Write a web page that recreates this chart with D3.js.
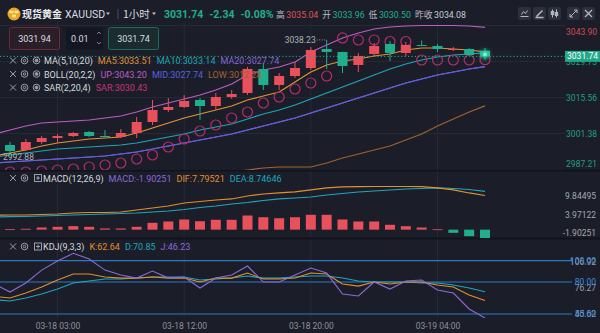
<!DOCTYPE html>
<html><head><meta charset="utf-8">
<script src="https://cdn.jsdelivr.net/npm/d3@7"></script>
<style>
html,body{margin:0;padding:0;background:#1b1e29;}
svg{display:block;font-family:Roboto,"Noto Sans","Noto Sans CJK SC",sans-serif;}
</style></head><body>
<svg id="c" width="600" height="333"></svg>
<script>
// ---- hourly bars (first entry sits just off the left edge) ----
const times = ["03-17 23:00","03-18 00:00","03-18 01:00","03-18 02:00","03-18 03:00","03-18 04:00","03-18 06:00","03-18 07:00","03-18 08:00","03-18 09:00","03-18 10:00","03-18 11:00","03-18 12:00","03-18 13:00","03-18 14:00","03-18 15:00","03-18 16:00","03-18 17:00","03-18 18:00","03-18 19:00","03-18 20:00","03-18 21:00","03-18 22:00","03-18 23:00","03-19 00:00","03-19 01:00","03-19 02:00","03-19 03:00","03-19 04:00","03-19 06:00","03-19 07:00","03-19 08:00"];
const open  = [2995.50,2996.86,2994.89,2998.04,2999.62,3000.40,3001.98,3000.40,3000.01,3001.58,3005.91,3010.64,3011.82,3014.58,3012.21,3015.76,3017.33,3026.78,3020.48,3024.02,3027.17,3034.65,3033.47,3028.36,3032.69,3036.62,3033.08,3036.23,3035.84,3034.26,3034.65,3033.96];
const high  = [2997.50,2998.04,2999.22,3000.40,3001.19,3001.98,3002.37,3002.76,3003.16,3007.88,3014.58,3015.36,3016.54,3015.36,3017.33,3018.51,3027.57,3029.14,3025.20,3029.54,3035.44,3038.23,3033.60,3033.08,3037.02,3037.80,3037.41,3038.00,3036.62,3035.40,3035.05,3035.04];
const low   = [2994.00,2992.88,2994.50,2997.25,2997.65,3000.01,3000.01,2999.90,2999.62,2999.62,3004.73,3009.85,3011.43,3006.70,3010.64,3014.97,3016.54,3018.51,3018.51,3023.24,3026.39,3026.78,3025.20,3025.60,3031.50,3029.93,3031.90,3035.84,3033.47,3033.87,3031.90,3030.50];
const close = [2996.90,2994.50,2998.04,2999.62,3000.40,3001.58,3000.40,3000.01,3001.58,3005.91,3010.64,3011.82,3014.18,3012.21,3015.76,3016.94,3026.78,3020.48,3024.02,3027.17,3034.26,3033.47,3027.96,3031.90,3035.84,3033.08,3036.23,3035.84,3034.65,3034.65,3032.29,3031.74];

const ma5   = [2992.53,2993.71,2994.89,2996.47,2997.65,2998.43,2999.22,2999.62,3000.01,3001.58,3003.55,3005.52,3007.49,3009.06,3010.64,3012.21,3014.58,3016.15,3017.73,3021.66,3025.60,3028.36,3029.93,3030.72,3031.90,3032.69,3034.26,3035.05,3035.05,3034.65,3034.26,3033.51];
const ma10  = [2992.13,2992.92,2993.71,2994.50,2995.28,2995.68,2996.07,2996.47,2996.86,2997.65,2998.83,3000.01,3001.19,3002.76,3003.95,3005.13,3007.10,3009.06,3010.64,3012.61,3014.97,3017.33,3019.69,3022.06,3024.42,3026.78,3028.75,3030.32,3031.50,3032.29,3032.69,3033.14];
const ma20  = [2989.77,2990.17,2990.56,2990.95,2991.35,2991.74,2992.13,2992.53,2993.32,2994.10,2995.28,2996.47,2997.65,2998.83,3000.01,3001.19,3002.76,3004.34,3005.91,3007.49,3009.46,3011.43,3013.39,3015.36,3017.33,3019.30,3021.27,3022.84,3024.42,3025.60,3026.78,3027.74];
const bollUp  = [3001.19,3002.76,3004.34,3005.52,3005.91,3006.31,3006.70,3007.49,3008.28,3009.85,3011.82,3013.39,3014.97,3016.54,3018.51,3020.87,3024.42,3026.39,3027.57,3029.54,3033.47,3036.23,3038.99,3040.95,3042.53,3043.32,3043.71,3043.90,3043.90,3043.90,3043.71,3043.20];
const bollMid = ma20;
const bollLow = [2978.3,2978.6,2978.9,2979.2,2979.5,2979.8,2980.2,2980.6,2981.0,2981.5,2982.0,2982.6,2983.2,2983.9,2984.8,2986.23,2987.02,2987.80,2988.20,2988.20,2988.20,2989.77,2991.74,2993.32,2994.89,2996.47,2998.83,3001.19,3004.34,3007.10,3009.85,3012.28];
const sar = [2986.00,2986.23,2986.23,2986.62,2987.02,2987.41,2988.20,2988.98,2989.77,2991.35,2992.92,2996.07,2999.22,3002.37,3004.73,3007.49,3009.85,3013.39,3015.76,3018.91,3021.27,3024.02,3038.99,3038.20,3038.20,3037.60,3037.60,3030.32,3030.32,3030.32,3030.32,3030.43];

const dif  = [3.30,3.34,3.34,3.46,3.57,3.80,3.91,3.91,4.03,4.48,4.94,5.39,6.08,6.42,6.76,7.00,7.68,8.14,8.37,8.60,9.06,9.52,9.75,9.80,9.84495,9.84,9.84,9.80,9.52,9.06,8.37,7.79521];
const dea  = [2.91,2.96,3.00,3.12,3.23,3.34,3.46,3.57,3.69,3.80,4.03,4.26,4.60,5.05,5.40,5.85,6.20,6.65,7.00,7.22,7.45,7.91,8.25,8.59,8.82,9.05,9.27,9.39,9.52,9.39,9.16,8.74646];
const macdHist = [0.08,0.10,0.20,0.50,0.65,0.80,0.65,0.27,0.27,0.65,1.56,1.86,2.32,1.93,2.25,2.25,3.23,2.84,2.61,2.84,3.39,3.39,2.32,1.86,1.86,1.11,0.79,0.49,0.08,-0.72,-1.49,-1.90251];

const kdjK = [66.4,65.0,69.7,75.3,81.9,87.5,87.5,84.7,83.7,83.7,84.7,83.7,83.7,80.0,83.7,83.7,88.4,82.8,82.8,83.7,88.4,87.5,78.1,76.2,80.0,78.1,80.0,80.0,77.2,75.3,67.8,62.64];
const kdjD = [63.5,62.2,65.0,68.7,73.4,79.1,80.9,82.8,82.8,83.7,84.7,84.7,84.7,81.9,82.8,83.7,85.6,83.7,83.7,84.7,85.6,85.6,83.7,80.9,80.0,80.0,80.0,79.1,79.1,77.2,74.4,70.85];
const kdjJ = [78.1,70.6,79.1,91.2,99.7,106.92,101.5,91.2,86.6,83.7,90.3,83.7,84.7,74.4,83.7,86.6,95.0,80.0,80.0,86.6,93.1,88.4,68.7,66.9,80.0,73.4,80.9,81.9,72.5,69.7,54.7,46.23];

const priceTicks = [3043.90,3029.73,3015.56,3001.38,2987.21];
const macdTicks  = ["9.84495","3.97122","-1.90251"];
const kdjLevels  = [100,80,50];
const kdjTicks   = ["106.92","76.27","45.62"];
const timeTicks  = ["03-18 03:00","03-18 12:00","03-18 20:00","03-19 04:00"];
const lastPrice = 3031.74, topHigh = 3038.23, bottomLow = 2992.88;

// ---- layout ----
const W = 600, H = 333, plotR = 565;
const C = {bg:"#1b1e29", grid:"#252a36", up:"#e8505b", down:"#1fae8e", text:"#d6d9df", dim:"#8b909a",
  ma5:"#e39233", ma10:"#1ea6b6", ma20:"#8a64d6", bUp:"#bd5cc4", bMid:"#5a5fe0", bLow:"#a3622e", sar:"#b32c6c",
  dif:"#e0902c", dea:"#1ea6be", macd:"#8a6ad8", kLine:"#2a78c2", kLbl:"#3d8ddc"};

const svg = d3.select("#c");
svg.append("rect").attr("width", W).attr("height", H).attr("fill", C.bg);

const x = d3.scalePoint().domain(times).range([10 - 15.83, 485]);
const yP = d3.scaleLinear().domain([2987.21, 3043.90]).range([169.5, 25.5]);
const yM = d3.scaleLinear().domain([-1.90251, 9.84495]).range([238, 186.5]);
const yK = d3.scaleLinear().domain([50, 100]).range([314, 260.7]);

const defs = svg.append("defs");
function clip(id, y0, y1) {
  defs.append("clipPath").attr("id", id).append("rect").attr("x", 0).attr("y", y0).attr("width", plotR).attr("height", y1 - y0);
  return svg.append("g").attr("clip-path", `url(#${id})`);
}
const blur = defs.append("filter").attr("id", "glow").attr("x", "-100%").attr("y", "-100%").attr("width", "300%").attr("height", "300%");
blur.append("feGaussianBlur").attr("stdDeviation", 2.2);

// vertical grid
svg.append("g").selectAll("line").data(timeTicks).join("line")
  .attr("x1", d => x(d)).attr("x2", d => x(d)).attr("y1", 22).attr("y2", 318)
  .attr("stroke", C.grid).attr("stroke-width", 1);
// horizontal grid (price)
svg.append("g").selectAll("line").data(priceTicks).join("line")
  .attr("x1", 0).attr("x2", plotR).attr("y1", d => yP(d)).attr("y2", d => yP(d))
  .attr("stroke", C.grid);
// panel separators
[170.5, 238.5].forEach(y => svg.append("line").attr("x1", 0).attr("x2", W).attr("y1", y).attr("y2", y).attr("stroke", "#10131b").attr("stroke-width", 2));

// ---------- main panel ----------
const gm = clip("cm", 22, 170);
const idx = d3.range(times.length);
function pline(g, arr, color, ys, w) {
  g.append("path").datum(idx).attr("fill", "none").attr("stroke", color).attr("stroke-width", w || 1.2)
    .attr("d", d3.line().x(i => x(times[i])).y(i => ys(arr[i])));
}
pline(gm, bollLow, C.bLow, yP);
pline(gm, ma20, C.ma20, yP);
pline(gm, bollMid, C.bMid, yP);
pline(gm, bollUp, C.bUp, yP);
pline(gm, ma10, C.ma10, yP);
pline(gm, ma5, C.ma5, yP);

// SAR dots
gm.append("g").selectAll("circle").data(idx).join("circle")
  .attr("cx", i => x(times[i])).attr("cy", i => yP(sar[i])).attr("r", 5)
  .attr("fill", "none").attr("stroke", C.sar).attr("stroke-width", 1.2);

// candles
const cg = gm.append("g").selectAll("g").data(idx).join("g");
const col = i => close[i] >= open[i] ? C.up : C.down;
cg.append("line").attr("x1", i => x(times[i])).attr("x2", i => x(times[i]))
  .attr("y1", i => yP(high[i])).attr("y2", i => yP(low[i])).attr("stroke", col).attr("stroke-width", 1);
cg.append("rect").attr("x", i => x(times[i]) - 5).attr("width", 10)
  .attr("y", i => yP(Math.max(open[i], close[i])))
  .attr("height", i => Math.max(1, Math.abs(yP(open[i]) - yP(close[i]))))
  .attr("fill", col);

// last price marker
const lastX = x(times[times.length - 1]);
svg.append("line").attr("x1", 0).attr("x2", plotR).attr("y1", yP(lastPrice)).attr("y2", yP(lastPrice))
  .attr("stroke", C.down).attr("stroke-dasharray", "1.2,2.2").attr("stroke-width", 1);
svg.append("circle").attr("cx", lastX).attr("cy", yP(lastPrice) - 2).attr("r", 4).attr("fill", "#2fe0b0").attr("filter", "url(#glow)");
svg.append("circle").attr("cx", lastX).attr("cy", yP(lastPrice) - 2).attr("r", 1.8).attr("fill", "#7ff5d4");

// high / low annotations
const hiIdx = high.indexOf(topHigh), loIdx = low.indexOf(bottomLow);
svg.append("line").attr("x1", x(times[hiIdx]) - 10).attr("x2", x(times[hiIdx]) - 1).attr("y1", yP(topHigh)).attr("y2", yP(topHigh))
  .attr("stroke", "#8b909a").attr("stroke-dasharray", "1,1.5");
svg.append("text").attr("x", x(times[hiIdx]) - 11).attr("y", yP(topHigh) + 3).attr("text-anchor", "end")
  .attr("font-size", 8.5).attr("fill", "#aeb2ba").text(topHigh.toFixed(2));
svg.append("text").attr("x", 3).attr("y", yP(bottomLow) + 4.5)
  .attr("font-size", 8.5).attr("fill", "#aeb2ba").text(bottomLow.toFixed(2));

// price axis
const pa = svg.append("g").attr("transform", "translate(597,0)")
  .call(d3.axisLeft(yP).tickValues(priceTicks).tickFormat(d3.format(".2f")).tickSize(0).tickPadding(0));
pa.select(".domain").remove();
pa.selectAll("text").attr("font-size", 8.5).attr("font-family", "Roboto")
  .attr("fill", d => d > lastPrice ? "#d24a52" : "#1f9e80")
  .attr("dy", (d, i) => i === 0 ? "1.0em" : (i === priceTicks.length - 1 ? "-0.4em" : "0.32em"));
// last price tag
svg.append("rect").attr("x", 565).attr("y", yP(lastPrice) - 5.5).attr("width", 35).attr("height", 11).attr("fill", "#1fa98a");
svg.append("text").attr("x", 582.5).attr("y", yP(lastPrice) + 3).attr("text-anchor", "middle")
  .attr("font-size", 8.5).attr("fill", "#ffffff").text(lastPrice.toFixed(2));

// ---------- MACD panel ----------
const gd = clip("cd", 171, 238);
gd.append("g").selectAll("rect").data(idx).join("rect")
  .attr("x", i => x(times[i]) - 5).attr("width", 10)
  .attr("y", i => Math.min(yM(0), yM(macdHist[i])))
  .attr("height", i => Math.max(0.8, Math.abs(yM(macdHist[i]) - yM(0))))
  .attr("fill", i => macdHist[i] >= 0 ? C.up : C.down);
pline(gd, dea, C.dea, yM);
pline(gd, dif, C.dif, yM);
const macdLbl = d3.scalePoint().domain(macdTicks).range([196, 233]);
const ma = svg.append("g").attr("transform", "translate(596,0)")
  .call(d3.axisLeft(macdLbl).tickSize(0).tickPadding(0));
ma.select(".domain").remove();
ma.selectAll("text").attr("font-size", 8.5).attr("font-family", "Roboto").attr("fill", "#a3a7b0");

// ---------- KDJ panel ----------
svg.append("g").selectAll("line").data(kdjLevels).join("line")
  .attr("x1", 0).attr("x2", 572).attr("y1", d => yK(d)).attr("y2", d => yK(d))
  .attr("stroke", C.kLine).attr("stroke-width", 1.2);
const gk = clip("ck", 239, 318);
pline(gk, kdjD, C.dea, yK, 1.1);
pline(gk, kdjK, C.dif, yK, 1.1);
pline(gk, kdjJ, C.macd, yK, 1.1);
const kLbl = d3.scalePoint().domain(kdjTicks).range([yK(100) + 1, yK(50)]);
const ka = svg.append("g").attr("transform", "translate(596,0)")
  .call(d3.axisLeft(kLbl).tickSize(0).tickPadding(0));
ka.select(".domain").remove();
ka.selectAll("text").attr("font-size", 8.5).attr("font-family", "Roboto").attr("fill", "#9aa0aa");
const kb = svg.append("g").attr("transform", "translate(596,0)")
  .call(d3.axisLeft(yK).tickValues(kdjLevels).tickFormat(d3.format(".2f")).tickSize(0).tickPadding(0));
kb.select(".domain").remove();
kb.selectAll("text").attr("font-size", 8.5).attr("font-family", "Roboto").attr("fill", C.kLbl);

// time axis
const ta = svg.append("g").attr("transform", "translate(0,320)")
  .call(d3.axisBottom(x).tickValues(timeTicks).tickSize(0).tickPadding(3));
ta.select(".domain").remove();
ta.selectAll("text").attr("font-size", 8.5).attr("font-family", "Roboto").attr("fill", "#8b909a");

// ---------- legends ----------
function icons(y, third) {
  const g = svg.append("g").attr("stroke", "#9ba0aa").attr("fill", "none").attr("stroke-width", 1);
  g.append("path").attr("d", `M10,${y-3.5} L16,${y+2.5} M16,${y-3.5} L10,${y+2.5}`);
  g.append("circle").attr("cx", 24.5).attr("cy", y - 0.5).attr("r", 3.3);
  g.append("circle").attr("cx", 24.5).attr("cy", y - 0.5).attr("r", 1.2);
  if (third === "eye") {
    g.append("circle").attr("cx", 36.5).attr("cy", y - 0.5).attr("r", 3.3);
    g.append("circle").attr("cx", 36.5).attr("cy", y - 0.5).attr("r", 1.4).attr("fill", "#9ba0aa");
  } else {
    g.append("rect").attr("x", 34.5).attr("y", y - 4).attr("width", 7).attr("height", 7);
    g.append("path").attr("d", `M36,${y-0.5} L40,${y-0.5} M38,${y-2.5} L38,${y+1.5}`);
  }
}
function legend(y, x0, items) {
  const t = svg.append("text").attr("x", x0).attr("y", y + 3).attr("font-size", 9);
  items.forEach(([s, c], k) => t.append("tspan").attr("dx", k ? 5 : 0).attr("fill", c).text(s));
}
icons(61, "eye"); legend(61, 44, [["MA(5,10,20)", C.text], ["MA5:3033.51", C.ma5], ["MA10:3033.14", C.ma10], ["MA20:3027.74", C.ma20]]);
icons(74.5, "eye"); legend(74.5, 44, [["BOLL(20,2,2)", C.text], ["UP:3043.20", C.bUp], ["MID:3027.74", C.bMid], ["LOW:3012.28", C.bLow]]);
icons(88, "eye"); legend(88, 44, [["SAR(2,20,4)", C.text], ["SAR:3030.43", "#c8327a"]]);
icons(178.5, "box"); legend(178.5, 43, [["MACD(12,26,9)", C.text], ["MACD:-1.90251", C.macd], ["DIF:7.79521", C.dif], ["DEA:8.74646", C.dea]]);
icons(247, "box"); legend(247, 43, [["KDJ(9,3,3)", C.text], ["K:62.64", C.dif], ["D:70.85", C.dea], ["J:46.23", C.macd]]);

// ---------- header ----------
const hd = svg.append("g");
hd.append("circle").attr("cx", 14).attr("cy", 14).attr("r", 6.5).attr("fill", "#eaa623");
[[11.5,12],[16.5,12],[14,16]].forEach(([a,b]) => hd.append("rect").attr("x", a - 2).attr("y", b - 1.3).attr("width", 4).attr("height", 2.6).attr("fill", "#fbe39a"));
hd.append("text").attr("x", 22).attr("y", 18).attr("font-size", 10).attr("font-weight", 700).attr("fill", "#e9ebef").attr("font-family", "Noto Sans CJK SC").text("现货黄金");
hd.append("text").attr("x", 65).attr("y", 18).attr("font-size", 10.5).attr("fill", "#d8dbe1").text("XAUUSD");
hd.append("path").attr("d", "M106,12.5 L110,12.5 L108,15 Z").attr("fill", "#c0c4cc");
hd.append("line").attr("x1", 118).attr("x2", 118).attr("y1", 9).attr("y2", 19).attr("stroke", "#4a4f5c");
hd.append("text").attr("x", 123).attr("y", 18).attr("font-size", 10.5).attr("fill", "#d8dbe1").attr("font-family", "Noto Sans CJK SC").text("1小时");
hd.append("path").attr("d", "M152,12.5 L156,12.5 L154,15 Z").attr("fill", "#c0c4cc");
const q = hd.append("text").attr("x", 164).attr("y", 18).attr("font-size", 10.5).attr("font-weight", 700);
[["3031.74", C.down, 0], ["-2.34", C.down, 6], ["-0.08%", C.down, 6]].forEach(([s, c, d]) => q.append("tspan").attr("dx", d).attr("fill", c).text(s));
const q2 = hd.append("text").attr("x", 276).attr("y", 18).attr("font-size", 8.8);
[["高", "#b8bcc4", 0], ["3035.04", "#e0505a", 1.5], ["开", "#b8bcc4", 4], ["3033.96", C.down, 1.5], ["低", "#b8bcc4", 4], ["3030.50", C.down, 1.5], ["昨收", "#b8bcc4", 4], ["3034.08", "#c8ccd4", 1.5]]
  .forEach(([s, c, d]) => q2.append("tspan").attr("dx", d).attr("fill", c).text(s));
// toolbar buttons
[518, 533, 548, 567, 582].forEach((bx, k) => {
  hd.append("rect").attr("x", bx).attr("y", 7).attr("width", 13).attr("height", 13).attr("rx", 2).attr("fill", "#2b303c");
  const g = hd.append("g").attr("stroke", "#b4b8c0").attr("fill", "none").attr("stroke-width", 1);
  const cx = bx + 6.5, cy = 13.5;
  if (k === 0) g.append("path").attr("d", `M${cx-4},${cy+3} L${cx+4},${cy+3} M${cx-3},${cy+1} L${cx-1},${cy-2} L${cx+1},${cy} L${cx+3},${cy-3}`);
  if (k === 1) g.append("path").attr("d", `M${cx-3},${cy+3} L${cx+3},${cy-3} M${cx-4},${cy+4} L${cx+4},${cy+4}`).attr("stroke-width", 1.5);
  if (k === 2) {
    g.append("path").attr("d", `M${cx-2},${cy-4} L${cx-2},${cy+4} M${cx+2},${cy-4} L${cx+2},${cy+4}`);
    g.append("rect").attr("x", cx - 3.2).attr("y", cy - 2).attr("width", 2.4).attr("height", 3).attr("fill", "#b4b8c0");
    g.append("rect").attr("x", cx + 0.8).attr("y", cy - 1).attr("width", 2.4).attr("height", 3).attr("fill", "#b4b8c0");
  }
  if (k === 3) g.append("path").attr("d", `M${cx-3.5},${cy+3.5} L${cx+3.5},${cy-3.5} M${cx+0.5},${cy-3.5} L${cx+3.5},${cy-3.5} L${cx+3.5},${cy-0.5} M${cx-3.5},${cy+0.5} L${cx-3.5},${cy+3.5} L${cx-0.5},${cy+3.5}`);
  if (k === 4) g.append("path").attr("d", `M${cx-3.5},${cy-3.5} L${cx+3.5},${cy+3.5} M${cx+3.5},${cy-3.5} L${cx-3.5},${cy+3.5}`).attr("stroke-width", 1.3);
});
// order boxes
hd.append("rect").attr("x", 9.5).attr("y", 27.5).attr("width", 50).attr("height", 22).attr("rx", 2).attr("fill", "#2a1f29").attr("stroke", "#6a2c36");
hd.append("text").attr("x", 34.5).attr("y", 42).attr("text-anchor", "middle").attr("font-size", 9).attr("fill", "#d9dbe0").text("3031.94");
hd.append("rect").attr("x", 66).attr("y", 27.5).attr("width", 37).attr("height", 22).attr("rx", 2).attr("fill", "#141722");
hd.append("text").attr("x", 71).attr("y", 42).attr("font-size", 9).attr("fill", "#d9dbe0").text("0.01");
hd.append("path").attr("d", "M97,34 L99,32 L101,34 M97,42 L99,44 L101,42").attr("stroke", "#7d828c").attr("fill", "none");
hd.append("rect").attr("x", 108.5).attr("y", 27.5).attr("width", 50).attr("height", 22).attr("rx", 2).attr("fill", "#1a2c2d").attr("stroke", "#1f6a5c");
hd.append("text").attr("x", 133.5).attr("y", 42).attr("text-anchor", "middle").attr("font-size", 9).attr("fill", "#d9dbe0").text("3031.74");
</script></body></html>
